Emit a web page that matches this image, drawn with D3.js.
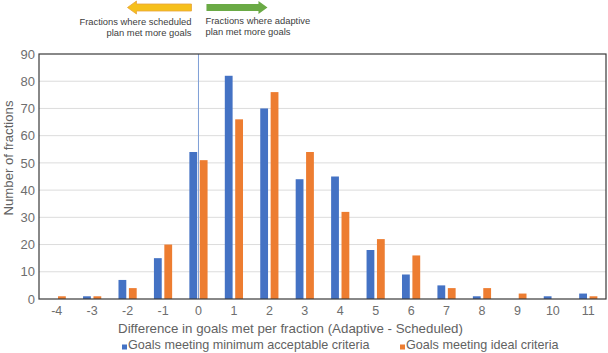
<!DOCTYPE html>
<html><head><meta charset="utf-8">
<script src="https://cdn.jsdelivr.net/npm/d3@7"></script>
<style>body{margin:0;background:#fff}svg{display:block;font-family:"Liberation Sans",Arial,Helvetica,sans-serif}</style>
</head><body><svg id="c" width="608" height="353"></svg>
<script>
const categories = [-4,-3,-2,-1,0,1,2,3,4,5,6,7,8,9,10,11];
const minAcceptable = [0,1,7,15,54,82,70,44,45,18,9,5,1,0,1,2];
const idealCriteria = [1,1,4,20,51,66,76,54,32,22,16,4,4,2,0,1];
const seriesNames = ["Goals meeting minimum acceptable criteria","Goals meeting ideal criteria"];
const seriesColors = ["#4472C4","#ED7D31"];
const yTicks = [0,10,20,30,40,50,60,70,80,90];

const svg = d3.select("#c");
const m = {left:39, right:2, top:54, bottom:54};
const W = 608, H = 353;
const x = d3.scaleBand().domain(categories).range([m.left, W-m.right]);
const y = d3.scaleLinear().domain([0,90]).range([H-m.bottom, m.top]);

// gridlines
svg.append("g").selectAll("line").data(yTicks.slice(1,-1)).join("line")
  .attr("x1", m.left).attr("x2", W-m.right)
  .attr("y1", d=>y(d)).attr("y2", d=>y(d))
  .attr("stroke","#dcdcdc").attr("stroke-width",1);

// bars
const bw = 7.8, gap = 2.6;
const data = categories.map((c,i)=>({c, v:[minAcceptable[i], idealCriteria[i]]}));
[0,1].forEach(s=>{
  svg.append("g").selectAll("rect").data(data).join("rect")
    .attr("x", d=> x(d.c)+x.bandwidth()/2 + (s===0 ? -gap/2-bw : gap/2))
    .attr("width", bw)
    .attr("y", d=> y(d.v[s]))
    .attr("height", d=> y(0)-y(d.v[s]))
    .attr("fill", seriesColors[s]);
});

// zero line
svg.append("line")
  .attr("x1", x(0)+x.bandwidth()/2).attr("x2", x(0)+x.bandwidth()/2)
  .attr("y1", m.top).attr("y2", y(0))
  .attr("stroke","#7f9fd6").attr("stroke-width",1);

// frame
svg.append("rect").attr("x", m.left).attr("y", m.top)
  .attr("width", W-m.right-m.left).attr("height", y(0)-m.top)
  .attr("fill","none").attr("stroke","#3a3a3a").attr("stroke-width",1.2);

// y axis labels
const yAxis = d3.axisLeft(y).tickValues(yTicks).tickSize(0).tickPadding(4);
const gy = svg.append("g").attr("transform",`translate(${m.left},0)`).call(yAxis);
gy.select(".domain").remove();
gy.selectAll("text").attr("fill","#6e6e6e").style("font-size","13px").style("font-family","inherit");

// x axis labels
const xAxis = d3.axisBottom(x).tickSize(0).tickPadding(7);
const gx = svg.append("g").attr("transform",`translate(0,${y(0)})`).call(xAxis);
gx.select(".domain").remove();
gx.selectAll("text").attr("fill","#6e6e6e").style("font-size","12.5px").style("font-family","inherit");

// axis titles
svg.append("text").attr("x", 290.5).attr("y", 333).attr("text-anchor","middle")
  .attr("fill","#626262").style("font-size","13.3px")
  .text("Difference in goals met per fraction (Adaptive - Scheduled)");
svg.append("text").attr("transform","translate(13,158) rotate(-90)").attr("text-anchor","middle")
  .attr("fill","#626262").style("font-size","13.2px").text("Number of fractions");

// legend
const lg = svg.append("g");
const lx = [122, 400];
seriesNames.forEach((n,i)=>{
  lg.append("rect").attr("x", lx[i]).attr("y", 344.5).attr("width",5).attr("height",5).attr("fill",seriesColors[i]);
  lg.append("text").attr("x", lx[i]+6).attr("y", 349).attr("fill","#626262").style("font-size","12.6px").text(n);
});

// arrows
const ax0 = x(0)+x.bandwidth()/2;
svg.append("path")
  .attr("d", `M${ax0-7},4 L${ax0-62},4 L${ax0-62},1 L${ax0-71},7.5 L${ax0-62},14 L${ax0-62},11 L${ax0-7},11 Z`)
  .attr("fill","#F6C01B").attr("stroke","#E8A33A").attr("stroke-width",0.8);
svg.append("path")
  .attr("d", `M${ax0+8},4 L${ax0+60},4 L${ax0+60},1 L${ax0+69},7.5 L${ax0+60},14 L${ax0+60},11 L${ax0+8},11 Z`)
  .attr("fill","#6AAA45");
const tl = svg.append("text").attr("text-anchor","end").attr("fill","#404040").style("font-size","9.4px");
tl.append("tspan").attr("x", ax0-7).attr("y", 25).text("Fractions where scheduled");
tl.append("tspan").attr("x", ax0-7).attr("y", 36).text("plan met more goals");
const tr = svg.append("text").attr("text-anchor","start").attr("fill","#404040").style("font-size","9.4px");
tr.append("tspan").attr("x", ax0+7).attr("y", 24).text("Fractions where adaptive");
tr.append("tspan").attr("x", ax0+7).attr("y", 35).text("plan met more goals");
</script></body></html>
